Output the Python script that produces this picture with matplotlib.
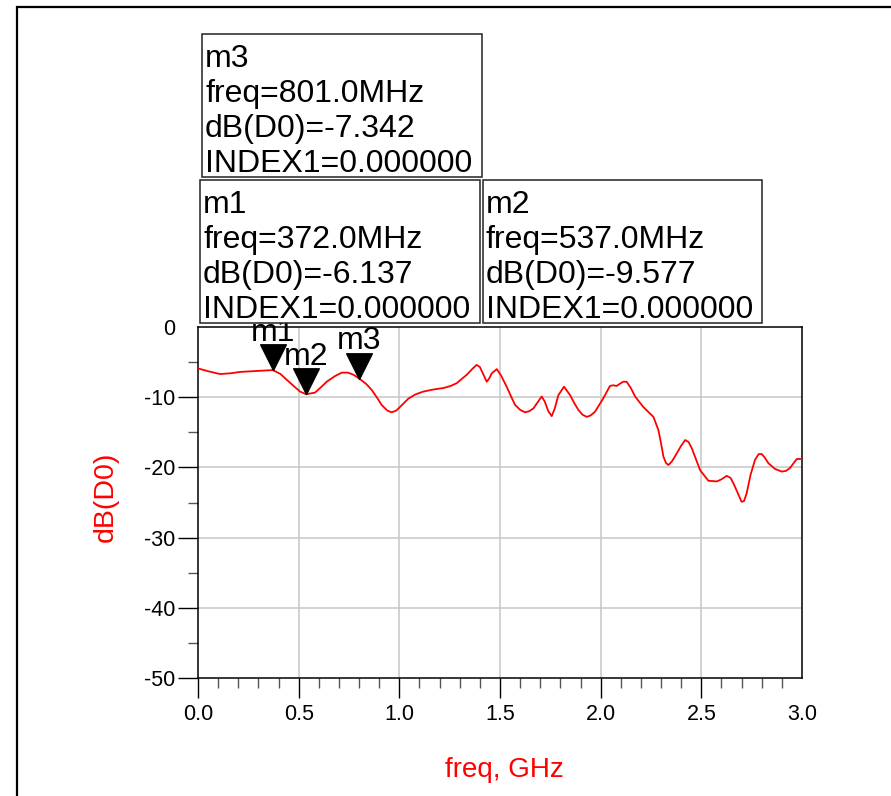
import matplotlib
matplotlib.use("Agg")
import matplotlib.pyplot as plt
from matplotlib.patches import Rectangle
from matplotlib.path import Path
from matplotlib.ticker import MultipleLocator, FixedLocator

plt.rcParams['font.family'] = ['Liberation Sans', 'DejaVu Sans']

# Swept response dB(D0) versus frequency (GHz)
freq_ghz = [0.000, 0.050, 0.109, 0.160, 0.209, 0.300, 0.372, 0.410, 0.440, 0.475,
            0.507, 0.537, 0.581, 0.610, 0.639, 0.680, 0.714, 0.745, 0.772, 0.801,
            0.835, 0.863, 0.890, 0.912, 0.940, 0.962, 0.985, 1.003, 1.045, 1.080,
            1.119, 1.170, 1.218, 1.255, 1.285, 1.335, 1.365, 1.384, 1.400, 1.418,
            1.434, 1.447, 1.459, 1.484, 1.505, 1.533, 1.555, 1.575, 1.600, 1.624,
            1.645, 1.666, 1.690, 1.707, 1.722, 1.740, 1.757, 1.772, 1.790, 1.818,
            1.848, 1.870, 1.889, 1.910, 1.931, 1.950, 1.972, 2.013, 2.046, 2.062,
            2.079, 2.100, 2.112, 2.129, 2.150, 2.171, 2.212, 2.262, 2.287, 2.300,
            2.312, 2.325, 2.337, 2.355, 2.378, 2.400, 2.420, 2.437, 2.453, 2.494,
            2.535, 2.577, 2.600, 2.626, 2.645, 2.660, 2.680, 2.700, 2.712, 2.725,
            2.745, 2.767, 2.785, 2.800, 2.815, 2.833, 2.865, 2.899, 2.920, 2.940,
            2.974, 3.000]
db_d0 = [-5.9, -6.3, -6.7, -6.6, -6.4, -6.25, -6.137, -6.7, -7.5, -8.4,
         -9.2, -9.577, -9.35, -8.6, -7.8, -7.0, -6.5, -6.5, -6.8, -7.342,
         -8.1, -8.97, -10.1, -11.1, -11.9, -12.15, -11.9, -11.4, -10.2, -9.6,
         -9.2, -8.9, -8.7, -8.4, -8.0, -6.8, -5.9, -5.4, -5.7, -6.8,
         -7.8, -7.3, -6.6, -6.0, -6.9, -8.5, -9.9, -11.1, -11.8, -12.15,
         -12.0, -11.6, -10.6, -9.9, -10.6, -12.0, -12.7, -11.6, -9.7, -8.5,
         -9.7, -10.9, -11.8, -12.5, -12.8, -12.6, -12.06, -10.16, -8.4, -8.3,
         -8.4, -8.0, -7.8, -7.8, -8.7, -9.9, -11.4, -12.8, -14.7, -16.6,
         -18.5, -19.4, -19.66, -19.1, -18.0, -16.9, -16.1, -16.4, -17.3, -20.4,
         -21.9, -22.0, -21.7, -21.2, -21.5, -22.3, -23.6, -24.9, -24.8, -23.7,
         -21.0, -18.9, -18.1, -18.1, -18.6, -19.4, -20.2, -20.6, -20.5, -20.1,
         -18.8, -18.8]

# Marker readouts
marker_names = ['m1', 'm2', 'm3']
marker_freq_ghz = [0.372, 0.537, 0.801]
marker_db = [-6.137, -9.577, -7.342]
marker_index = [0.0, 0.0, 0.0]

x_ticks = [0.0, 0.5, 1.0, 1.5, 2.0, 2.5, 3.0]
y_ticks = [-50, -40, -30, -20, -10, 0]

W, H = 891, 796
fig = plt.figure(figsize=(W / 100, H / 100), dpi=100)


def fx(px):
    return px / W


def fy(py):
    return 1 - py / H


# outer page frame
fig.add_artist(Rectangle((fx(17), fy(830)), fx(900), fy(7) - fy(830),
                         transform=fig.transFigure, fill=False,
                         edgecolor='black', linewidth=1.6, zorder=1))

ax = fig.add_axes([fx(198), fy(678), fx(802) - fx(198), fy(327) - fy(678)])
ax.plot(freq_ghz, db_d0, color='#ff0000', linewidth=1.3, zorder=3)

ax.set_xlim(0, 3)
ax.set_ylim(-50, 0)
ax.xaxis.set_major_locator(FixedLocator(x_ticks))
ax.yaxis.set_major_locator(FixedLocator(y_ticks))
ax.xaxis.set_minor_locator(MultipleLocator(0.1))
ax.yaxis.set_minor_locator(FixedLocator([-45, -35, -25, -15, -5]))
ax.set_xticklabels([f'{v:.1f}' for v in x_ticks])
ax.set_yticklabels([f'{v:d}' for v in y_ticks])

ax.tick_params(which='major', direction='out', length=14.5, width=1.0,
               color='black', labelsize=15.5, labelcolor='black')
ax.tick_params(axis='x', which='major', pad=4.5)
ax.tick_params(axis='y', which='major', pad=2)
ax.tick_params(which='minor', direction='out', length=7.2, width=1.0,
               color='#555555')
# no tick marks at the far ends of the ranges
ax.xaxis.get_major_ticks()[-1].tick1line.set_visible(False)
ax.yaxis.get_major_ticks()[-1].tick1line.set_visible(False)

for v in x_ticks[1:-1]:
    ax.axvline(v, color='#c6c6c6', linewidth=1.1, zorder=1)
for v in y_ticks[1:-1]:
    ax.axhline(v, color='#c6c6c6', linewidth=1.1, zorder=1)

for s in ax.spines.values():
    s.set_color('black')
    s.set_linewidth(1.1)

ax.set_xlabel('freq, GHz', color='#ff0000', fontsize=20)
ax.xaxis.set_label_coords(0.508, -0.225)
ax.set_ylabel('dB(D0)', color='#ff0000', fontsize=20.5)
ax.yaxis.set_label_coords(-0.131, 0.5157)

# marker triangles with tip on the trace, name above
tri = Path([(-0.5, 1.0), (0.5, 1.0), (0.0, 0.0), (-0.5, 1.0)],
           [Path.MOVETO, Path.LINETO, Path.LINETO, Path.CLOSEPOLY])
for name, f, d in zip(marker_names, marker_freq_ghz, marker_db):
    ax.plot([f], [d], marker=tri, markersize=37, color='black',
            linestyle='none', clip_on=False, zorder=5)
    ax.annotate(name, xy=(f, d), xytext=(0, 21.0), textcoords='offset points',
                ha='center', va='baseline', fontsize=23, color='black',
                annotation_clip=False, zorder=5)

# readout boxes (figure pixel layout)
box_rects = {'m3': (202, 34, 482, 177),
             'm1': (200, 180, 480, 323),
             'm2': (483, 180, 762, 323)}
for name, f, d, idx in zip(marker_names, marker_freq_ghz, marker_db, marker_index):
    x0, y0, x1, y1 = box_rects[name]
    fig.add_artist(Rectangle((fx(x0), fy(y1)), fx(x1) - fx(x0), fy(y0) - fy(y1),
                             transform=fig.transFigure, facecolor='white',
                             edgecolor='#222222', linewidth=1.1, zorder=10))
    lines = [name,
             f'freq={f * 1000:.1f}MHz',
             f'dB(D0)={d:.3f}',
             f'INDEX1={idx:.6f}']
    for i, line in enumerate(lines):
        fig.text(fx(x0 + 3), fy(y0 + 33 + 35 * i), line, ha='left',
                 va='baseline', fontsize=23, color='black', zorder=11)

fig.savefig('out.png', dpi=100, facecolor='white')
